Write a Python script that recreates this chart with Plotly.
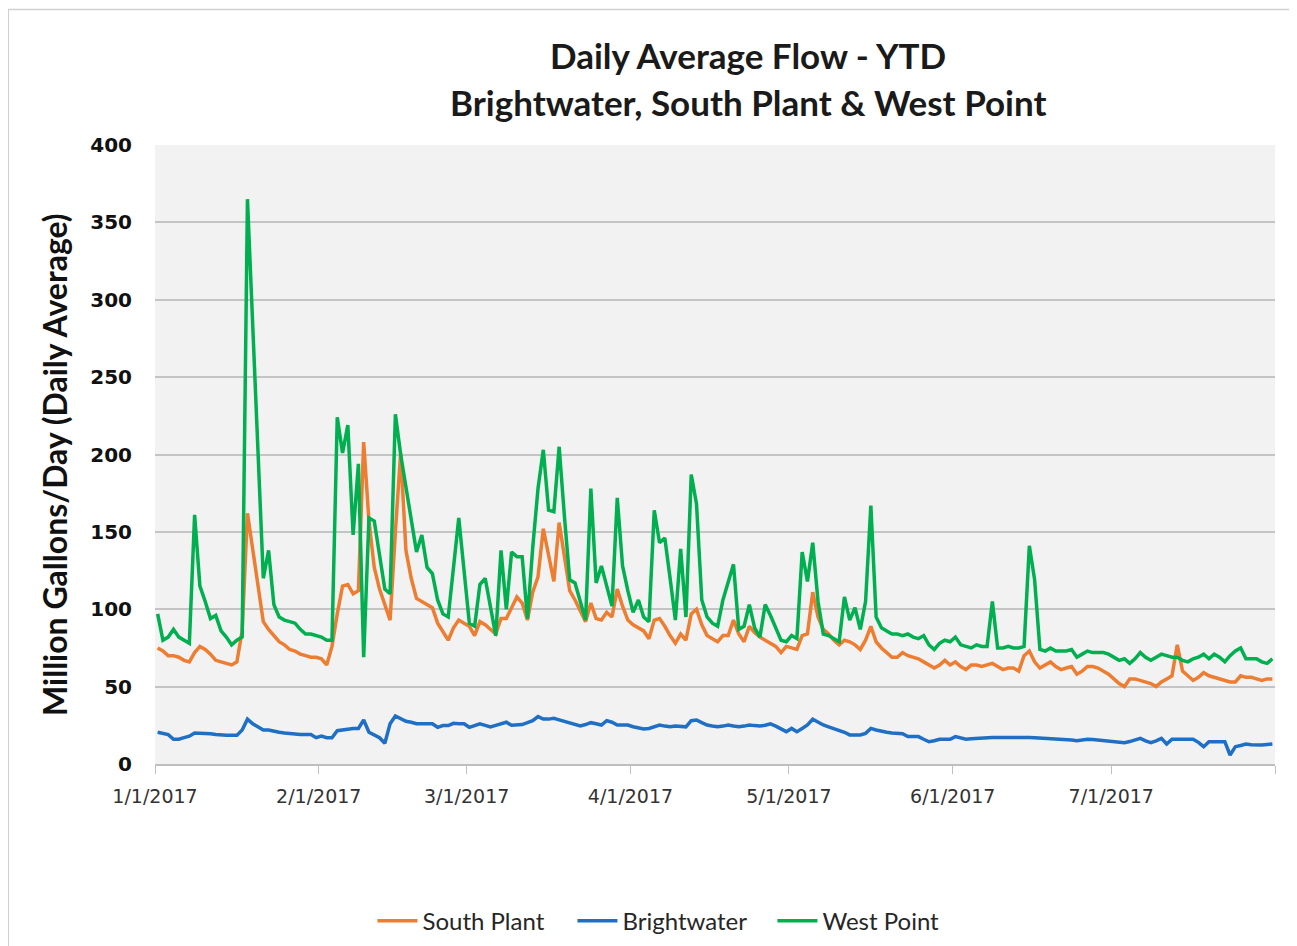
"""
Daily average flow, year to date, for the three treatment plants.
"""

import pandas as pd
import plotly.graph_objects as go


START = "2017-01-01 12:00"

SOUTH_PLANT = [
    75, 73, 70, 70, 69, 67, 66, 72, 76, 74,
    71, 67, 66, 65, 64, 66, 86, 162, 138, 115,
    92, 87, 83, 79, 77, 74, 73, 71, 70, 69,
    69, 68, 64, 76, 97, 115, 116, 110, 112, 208,
    157, 127, 113, 103, 93, 150, 201, 138, 120, 107,
    105, 103, 101, 91, 85, 80, 88, 93, 91, 89,
    83, 92, 90, 87, 84, 94, 94, 101, 108, 104,
    93, 111, 121, 152, 135, 118, 156, 134, 112, 106,
    99, 92, 104, 94, 93, 98, 95, 113, 102, 93,
    90, 88, 86, 81, 93, 94, 89, 83, 78, 84,
    80, 97, 100, 90, 83, 81, 79, 83, 83, 93,
    84, 79, 89, 85, 82, 80, 78, 76, 72, 76,
    75, 74, 83, 84, 111, 95, 87, 84, 80, 77,
    80, 79, 77, 74, 80, 89, 79, 75, 72, 69,
    69, 72, 70, 69, 68, 66, 64, 62, 64, 67,
    64, 66, 63, 61, 64, 64, 63, 64, 65, 63,
    61, 62, 62, 60, 70, 73, 66, 62, 64, 66,
    63, 61, 62, 63, 58, 60, 63, 63, 62, 60,
    58, 55, 52, 50, 55, 55, 54, 53, 52, 50,
    53, 55, 57, 77, 60, 57, 54, 56, 59, 57,
    56, 55, 54, 53, 53, 57, 56, 56, 55, 54,
    55, 55,
]

BRIGHTWATER = [
    20.5, 20, 19, 16, 16, 17, 18, 20, 20, 20,
    19.5, 19, 18.5, 18.5, 18.5, 18.5, 22, 29, 26, 24,
    22, 22, 21, 20.5, 20, 19.5, 19, 19, 19, 19,
    17, 18, 17, 17, 21.5, 22, 22.6, 23, 23, 28.4,
    20.5, 19, 17, 13.4, 26, 31, 29, 27.6, 27, 26,
    26, 26, 26, 23.7, 24.8, 24.8, 26.3, 26, 26, 23.7,
    25, 26, 25, 24, 25, 26, 27, 25, 25, 25.5,
    26.7, 28, 30.6, 29, 29, 29.5, 28.5, 27.4, 26.5, 25.5,
    24.6, 25.5, 26.7, 26, 25.2, 28, 27, 25.2, 25.2, 25.2,
    24.1, 23.5, 22.6, 23, 24, 25.2, 24.5, 24.1, 24.6, 24.1,
    24, 28, 28.4, 26.7, 25.2, 24.6, 24.1, 24.5, 25.2, 24.6,
    24.1, 24.5, 25.2, 24.8, 24.6, 25, 25.9, 24.5, 23, 20.9,
    23, 20.9, 23, 25.2, 28.9, 27, 25.2, 24, 23, 22,
    20.5, 18.8, 18.8, 18.8, 19.8, 23, 22, 21, 20.5, 20,
    19.8, 19.5, 17.7, 17.7, 17.7, 16, 14.4, 15, 16, 16,
    16, 17.7, 17, 16, 16.3, 16.6, 17, 17.2, 17.2, 17.2,
    17.2, 17.5, 17.5, 17.7, 17.4, 17.2, 17, 16.8, 16.6, 16.5,
    16.3, 16.2, 16, 15.5, 15, 15.5, 16, 15.8, 15.5, 15.2,
    15, 14.5, 14.2, 13.8, 14.5, 15.5, 16.6, 15, 13.8, 15,
    16.6, 12.9, 16, 16, 16, 16, 16, 14, 11.2, 14.4,
    14.4, 14.4, 14.4, 5.8, 11.2, 12, 12.9, 12.5, 12.3, 12.3,
    12.6, 12.9,
]

WEST_POINT = [
    97, 80, 82, 87, 82, 80, 78, 161, 115, 105,
    94, 96, 86, 82, 77, 80, 82, 365, 285, 200,
    120, 138, 103, 95, 93, 92, 91, 87, 84, 84,
    83, 82, 80, 80, 224, 201, 219, 148, 194, 69,
    159, 157, 135, 113, 110, 226, 200, 178, 157, 137,
    148, 127, 123, 106, 97, 95, 127, 159, 125, 91,
    89, 116, 120, 100, 83, 138, 100, 137, 134, 134,
    94, 140, 178, 203, 164, 163, 205, 160, 119, 117,
    105, 93, 178, 117, 128, 115, 102, 172, 128, 112,
    98, 106, 95, 92, 164, 143, 146, 120, 93, 139,
    95, 187, 168, 106, 95, 91, 89, 106, 117, 129,
    87, 89, 103, 88, 82, 103, 96, 88, 80, 79,
    83, 81, 137, 118, 143, 105, 84, 83, 81, 79,
    108, 93, 101, 87, 105, 167, 95, 88, 86, 84,
    84, 83, 84, 82, 81, 83, 77, 74, 78, 80,
    79, 82, 77, 76, 75, 77, 76, 76, 105, 75,
    75, 76, 75, 75, 76, 141, 119, 74, 73, 75,
    73, 73, 73, 74, 69, 71, 73, 72, 72, 72,
    71, 69, 67, 68, 65, 68, 72, 69, 67, 69,
    71, 70, 69, 69, 67, 66, 68, 69, 71, 68,
    71, 69, 66, 70, 73, 75, 68, 68, 68, 66,
    65, 68,
]

TICK_DATES = ["2017-01-01", "2017-02-01", "2017-03-01", "2017-04-01",
              "2017-05-01", "2017-06-01", "2017-07-01", "2017-08-01"]
TICK_TEXT = ["1/1/2017", "2/1/2017", "3/1/2017", "4/1/2017",
             "5/1/2017", "6/1/2017", "7/1/2017", ""]

SERIES = [
    ("South Plant", SOUTH_PLANT, "#ED7D31"),
    ("Brightwater", BRIGHTWATER, "#1F6FC5"),
    ("West Point", WEST_POINT, "#00B050"),
]

# Excel puts each daily point in the middle of its day slot
dates = pd.date_range(START, periods=len(WEST_POINT), freq="D")

fig = go.Figure()
for name, values, color in SERIES:
    fig.add_trace(
        go.Scatter(
            x=dates,
            y=values,
            mode="lines",
            name=name,
            line=dict(color=color, width=3.5),
        )
    )

# the page body adds an 8px margin, so the figure is 8px smaller each way
fig.update_layout(
    width=1289,
    height=938,
    margin=dict(l=147, r=22, t=137, b=182, autoexpand=False),
    paper_bgcolor="white",
    plot_bgcolor="#F2F2F2",
    font=dict(family="Lato, Arial", color="#262626"),
    showlegend=True,
    legend=dict(
        orientation="h",
        x=0.462,
        xanchor="center",
        y=-0.254,
        yanchor="middle",
        font=dict(family="Lato", size=24, color="#262626"),
        itemwidth=40,
        entrywidth=145,
    ),
    annotations=[
        dict(
            text="<b>Daily Average Flow - YTD</b>",
            xref="paper", yref="paper", x=0.5295, y=1.145,
            xanchor="center", yanchor="middle", showarrow=False,
            font=dict(family="Lato", size=35, color="#1a1a1a"),
        ),
        dict(
            text="<b>Brightwater, South Plant & West Point</b>",
            xref="paper", yref="paper", x=0.5295, y=1.069,
            xanchor="center", yanchor="middle", showarrow=False,
            font=dict(family="Lato", size=35, color="#1a1a1a"),
        ),
        dict(
            text="<b>Million Gallons/Day (Daily Average)</b>",
            xref="paper", yref="paper", x=-0.0893, y=0.4847,
            xanchor="center", yanchor="middle", showarrow=False,
            textangle=-90,
            font=dict(family="Lato", size=32, color="#111111"),
        ),
    ],
    shapes=[
        dict(
            type="rect", xref="paper", yref="paper",
            x0=-0.131, x1=1.03, y0=-0.32, y1=1.219,
            line=dict(color="#D0D0D0", width=1.5),
        )
    ],
)

fig.update_xaxes(
    range=["2017-01-01", "2017-08-01"],
    tickvals=TICK_DATES,
    ticktext=TICK_TEXT,
    tickfont=dict(family="DejaVu Sans", size=19, color="#333333"),
    ticks="outside",
    ticklen=8,
    tickcolor="#BFBFBF",
    ticklabelstandoff=6,
    showline=True,
    linecolor="#BFBFBF",
    linewidth=2,
    showgrid=False,
    zeroline=False,
)

fig.update_yaxes(
    range=[0, 400],
    dtick=50,
    tickfont=dict(family="DejaVu Sans", size=20, color="#111111", weight="bold"),
    ticklabelstandoff=22,
    showgrid=True,
    gridcolor="#C4C4C4",
    gridwidth=2,
    zeroline=False,
    showline=False,
)

fig.write_html("out.html")
